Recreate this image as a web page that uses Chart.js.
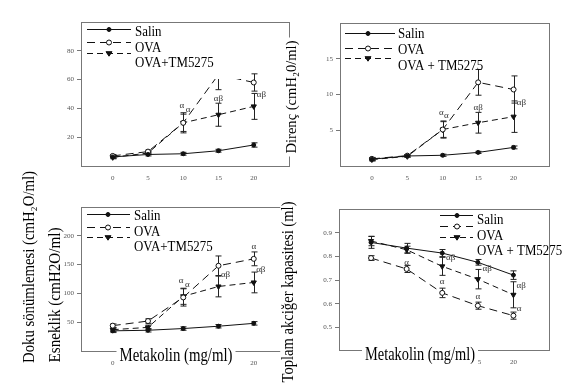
<!DOCTYPE html>
<html>
<head>
<meta charset="utf-8">
<script src="https://cdn.jsdelivr.net/npm/chart.js@4"></script>
<style>
  body { margin: 0; background: #fff; }
  #wrap { position: relative; width: 576px; height: 386px; background: #fff; }
  #wrap canvas { position: absolute; left: 0; top: 0; }
</style>
</head>
<body>
<div id="wrap">
  <canvas id="c1" width="576" height="386"></canvas>
  <canvas id="c2" width="576" height="386"></canvas>
  <canvas id="c3" width="576" height="386"></canvas>
  <canvas id="c4" width="576" height="386"></canvas>
</div>
<script>
// doz değerleri (metakolin mg/ml)
const doses = [0, 5, 10, 15, 20];
const legendA = ['Salin', 'OVA', 'OVA+TM5275'];
const legendB = ['Salin', 'OVA', 'OVA + TM5275'];

// panel 1 (sol üst)
const p1Salin = [6.3, 8, 8.5, 10.6, 14.6];
const p1Ova = [7, 10, 30, 63.5, 58];
const p1Tm = [6, 9, 30, 35.6, 41.4];
const p1SalinErr = [1, 1, 1, 1, 1.5];
const p1OvaErr = [1, 1, 7, 10.5, 6];
const p1TmErr = [1, 1, 6, 8, 9];
const p1Ticks = [20, 40, 60, 80];
const p1Notes = [[9.8, 42, 'α'], [10.7, 39, 'α'], [15, 47, 'αβ'], [21.1, 49.8, 'αβ']];

// panel 2 (sağ üst) - Direnç
const p2Salin = [0.95, 1.4, 1.5, 1.9, 2.6];
const p2Ova = [1.0, 1.45, 5.1, 11.7, 10.7];
const p2Tm = [0.9, 1.35, 5.1, 6.05, 6.9];
const p2SalinErr = [0.2, 0.15, 0.15, 0.15, 0.2];
const p2OvaErr = [0.2, 0.15, 1.2, 1.8, 1.9];
const p2TmErr = [0.2, 0.15, 1.1, 1.45, 2.2];
const p2Ticks = [5, 10, 15];
const p2Notes = [[9.8, 7.5, 'α'], [10.5, 7.0, 'α'], [15, 8.1, 'αβ'], [21.1, 8.8, 'αβ']];

// panel 3 (sol alt) - Esneklik
const p3Salin = [35, 36, 39, 43, 48];
const p3Ova = [44, 52, 93, 148, 160];
const p3Tm = [37, 41, 95, 112, 119];
const p3SalinErr = [3, 3, 3, 3, 3];
const p3OvaErr = [3, 4, 15, 17, 12];
const p3TmErr = [3, 4, 14, 18, 18];
const p3Ticks = [50, 100, 150, 200];
const p3Notes = [[9.7, 122, 'α'], [10.6, 116, 'α'], [20, 181, 'α'], [16, 133, 'αβ'], [21, 142, 'αβ']];

// panel 4 (sağ alt) - Toplam akciğer kapasitesi
const p4Salin = [0.859, 0.835, 0.814, 0.775, 0.721];
const p4Ova = [0.793, 0.747, 0.646, 0.592, 0.55];
const p4Tm = [0.865, 0.828, 0.758, 0.704, 0.638];
const p4SalinErr = [0.025, 0.02, 0.015, 0.012, 0.018];
const p4OvaErr = [0.01, 0.015, 0.02, 0.015, 0.015];
const p4TmErr = [0.02, 0.015, 0.038, 0.041, 0.055];
const p4Ticks = [0.5, 0.6, 0.7, 0.8, 0.9];
const p4Notes = [[5, 0.775, 'α'], [10, 0.693, 'α'], [15, 0.63, 'α'], [20.8, 0.58, 'α'],
                 [11.2, 0.793, 'αβ'], [16.3, 0.747, 'αβ'], [21.1, 0.676, 'αβ']];

const FONT = '"Liberation Serif", "Times New Roman", serif';
const INK = '#111';
const YW = 30, XH = 22;

const panels = [
  { id: 'c1', box: { left: 81, top: 22, right: 289, bottom: 166 }, yMin: 0, yMax: 100, yTicks: p1Ticks,
    series: [p1Salin, p1Ova, p1Tm], errs: [p1SalinErr, p1OvaErr, p1TmErr], notes: p1Notes,
    legend: { names: legendA, x0: 87, x1: 131, mx: 109, lineY: [29, 42, 53], tx: 135, textY: [32, 48, 63],
              bg: [82, 23, 158, 56] },
    texts: [] },
  { id: 'c2', box: { left: 340, top: 23, right: 549, bottom: 166 }, yMin: 0, yMax: 20, yTicks: p2Ticks,
    series: [p2Salin, p2Ova, p2Tm], errs: [p2SalinErr, p2OvaErr, p2TmErr], notes: p2Notes,
    legend: { names: legendB, x0: 345, x1: 395, mx: 368, lineY: [33, 48, 58], tx: 398, textY: [34, 50, 66] },
    texts: [{ str: 'Direnç (cmH₂0/ml)', x: 292, y: 97, size: 15, len: 113, rot: -Math.PI / 2, bg: true }] },
  { id: 'c3', box: { left: 81, top: 207, right: 289, bottom: 351 }, yMin: 0, yMax: 250, yTicks: p3Ticks,
    series: [p3Salin, p3Ova, p3Tm], errs: [p3SalinErr, p3OvaErr, p3TmErr], notes: p3Notes,
    legend: { names: legendA, x0: 87, x1: 130, mx: 108, lineY: [214, 227, 237], tx: 134, textY: [216, 232, 247] },
    texts: [
      { str: 'Doku sönümlemesi (cmH₂O/ml)', x: 30, y: 267, size: 17, len: 192, rot: -Math.PI / 2 },
      { str: 'Esneklik (cmH2O/ml)', x: 56, y: 295, size: 16, len: 135, rot: -Math.PI / 2 },
      { str: 'Metakolin (mg/ml)', x: 176, y: 356, size: 18, len: 113, rot: 0, bg: true }
    ] },
  { id: 'c4', box: { left: 339, top: 209, right: 549, bottom: 350 }, yMin: 0.405, yMax: 1.0, yTicks: p4Ticks,
    series: [p4Salin, p4Ova, p4Tm], errs: [p4SalinErr, p4OvaErr, p4TmErr], notes: p4Notes,
    legend: { names: legendB, x0: 440, x1: 473, mx: 457, lineY: [215, 226, 237], tx: 477, textY: [220, 236, 251] },
    texts: [
      { str: 'Toplam akciğer kapasitesi (ml)', x: 289, y: 292, size: 16, len: 181, rot: -Math.PI / 2, bg: true },
      { str: 'Metakolin (mg/ml)', x: 420, y: 355, size: 18, len: 110, rot: 0, bg: true }
    ] }
];

// seri stilleri: Salin düz, OVA boş daire, OVA+TM5275 ters üçgen
const styles = [
  { dash: [], pointStyle: 'circle', radius: 2, fill: INK, rotation: 0 },
  { dash: [8, 5], pointStyle: 'circle', radius: 2.5, fill: '#fff', rotation: 0 },
  { dash: [6, 4], pointStyle: 'triangle', radius: 3, fill: INK, rotation: 180 }
];

function fitText(ctx, t) {
  ctx.save();
  ctx.translate(t.x, t.y);
  ctx.rotate(t.rot);
  ctx.font = t.size + 'px ' + FONT;
  const w = ctx.measureText(t.str).width;
  if (t.bg) {
    ctx.fillStyle = '#fff';
    ctx.fillRect(-t.len / 2 - 3, -t.size * 0.55, t.len + 6, t.size * 1.1);
  }
  ctx.scale(t.len / w, 1);
  ctx.fillStyle = '#000';
  ctx.textAlign = 'center';
  ctx.textBaseline = 'middle';
  ctx.fillText(t.str, 0, 0);
  ctx.restore();
}

function drawMarker(ctx, st, x, y) {
  ctx.save();
  ctx.setLineDash([]);
  ctx.lineWidth = 1;
  ctx.strokeStyle = INK;
  ctx.fillStyle = st.fill;
  ctx.beginPath();
  if (st.pointStyle === 'triangle') {
    const r = st.radius;
    ctx.moveTo(x - r, y - r * 0.6);
    ctx.lineTo(x + r, y - r * 0.6);
    ctx.lineTo(x, y + r * 0.9);
    ctx.closePath();
  } else {
    ctx.arc(x, y, st.radius, 0, Math.PI * 2);
  }
  ctx.fill();
  ctx.stroke();
  ctx.restore();
}

const panelPlugin = {
  id: 'panelDeco',
  beforeDatasetsDraw(chart) {
    // hata çubukları
    const p = chart.options.plugins.panelDeco;
    const ctx = chart.ctx, xs = chart.scales.x, ys = chart.scales.y;
    ctx.save();
    ctx.strokeStyle = '#222';
    ctx.lineWidth = 1;
    p.series.forEach((vals, s) => {
      vals.forEach((v, i) => {
        const e = p.errs[s][i];
        const px = Math.round(xs.getPixelForValue(doses[i])) + 0.5;
        const y1 = ys.getPixelForValue(v + e), y2 = ys.getPixelForValue(v - e);
        ctx.beginPath();
        ctx.moveTo(px, y1); ctx.lineTo(px, y2);
        ctx.moveTo(px - 3, y1); ctx.lineTo(px + 3, y1);
        ctx.moveTo(px - 3, y2); ctx.lineTo(px + 3, y2);
        ctx.stroke();
      });
    });
    ctx.restore();
  },
  afterDatasetsDraw(chart) {
    const p = chart.options.plugins.panelDeco;
    const ctx = chart.ctx, xs = chart.scales.x, ys = chart.scales.y;
    const lg = p.legend;
    ctx.save();
    if (lg.bg) {
      ctx.fillStyle = '#fff';
      ctx.fillRect(lg.bg[0], lg.bg[1], lg.bg[2], lg.bg[3]);
    }
    lg.names.forEach((name, i) => {
      const st = styles[i];
      ctx.save();
      ctx.strokeStyle = INK;
      ctx.lineWidth = 1;
      ctx.setLineDash(st.dash);
      ctx.beginPath();
      ctx.moveTo(lg.x0, lg.lineY[i] + 0.5);
      ctx.lineTo(lg.x1, lg.lineY[i] + 0.5);
      ctx.stroke();
      ctx.restore();
      drawMarker(ctx, st, lg.mx, lg.lineY[i] + 0.5);
      ctx.save();
      ctx.translate(lg.tx, lg.textY[i]);
      ctx.scale(0.86, 1);
      ctx.font = '15px ' + FONT;
      ctx.fillStyle = '#000';
      ctx.textBaseline = 'middle';
      ctx.fillText(name, 0, 0);
      ctx.restore();
    });
    // α / αβ işaretleri
    ctx.font = '9px ' + FONT;
    ctx.fillStyle = '#333';
    ctx.textAlign = 'center';
    ctx.textBaseline = 'middle';
    p.notes.forEach(n => {
      ctx.fillText(n[2], xs.getPixelForValue(n[0]), ys.getPixelForValue(n[1]));
    });
    // çerçeve
    const a = chart.chartArea;
    ctx.strokeStyle = '#777';
    ctx.lineWidth = 1;
    ctx.strokeRect(Math.round(a.left) + 0.5, Math.round(a.top) + 0.5, Math.round(a.right - a.left), Math.round(a.bottom - a.top));
    ctx.restore();
  },
  afterDraw(chart) {
    const p = chart.options.plugins.panelDeco;
    p.texts.forEach(t => fitText(chart.ctx, t));
  }
};

panels.forEach(p => {
  const datasets = p.series.map((vals, s) => ({
    label: p.legend.names[s],
    data: vals.map((v, i) => ({ x: doses[i], y: v })),
    borderColor: INK,
    borderWidth: 1,
    borderDash: styles[s].dash,
    pointStyle: styles[s].pointStyle,
    pointRotation: styles[s].rotation,
    pointRadius: styles[s].radius,
    pointBackgroundColor: styles[s].fill,
    pointBorderColor: INK,
    pointBorderWidth: 1,
    tension: 0
  }));

  new Chart(document.getElementById(p.id), {
    type: 'line',
    data: { datasets: datasets },
    options: {
      responsive: false,
      animation: false,
      layout: {
        padding: { left: p.box.left - YW, top: p.box.top, right: 576 - p.box.right, bottom: 386 - p.box.bottom - XH }
      },
      plugins: {
        legend: { display: false },
        tooltip: { enabled: false },
        panelDeco: p
      },
      scales: {
        x: {
          type: 'linear', min: -4.5, max: 25,
          afterBuildTicks: s => { s.ticks = doses.map(v => ({ value: v })); },
          afterFit: s => { s.height = XH; },
          grid: { drawOnChartArea: false, drawTicks: false },
          border: { display: false },
          ticks: { font: { family: FONT, size: 7 }, color: '#555', padding: 8, maxRotation: 0, autoSkip: false }
        },
        y: {
          type: 'linear', min: p.yMin, max: p.yMax,
          afterBuildTicks: s => { s.ticks = p.yTicks.map(v => ({ value: v })); },
          afterFit: s => { s.width = YW; },
          grid: { drawOnChartArea: false, tickLength: 4, color: '#777' },
          border: { display: false },
          ticks: { font: { family: FONT, size: 7 }, color: '#555', padding: 3 }
        }
      }
    },
    plugins: [panelPlugin]
  });
});
</script>
</body>
</html>
